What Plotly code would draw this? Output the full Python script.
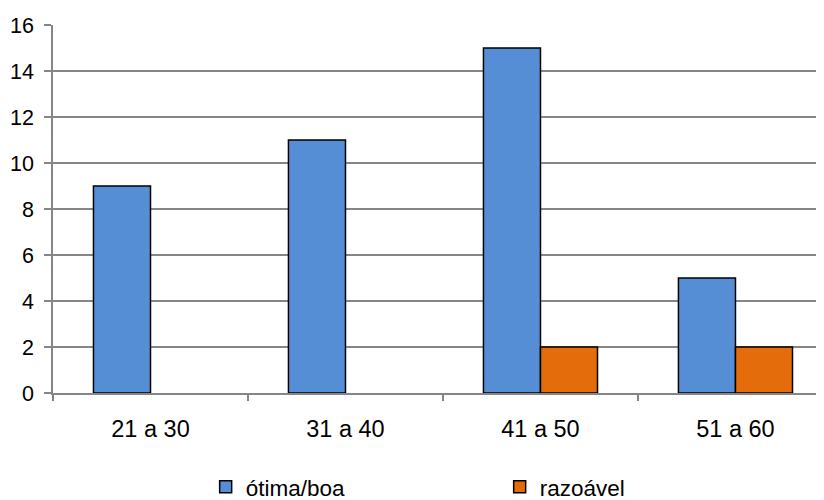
import plotly.graph_objects as go

categories = ["21 a 30", "31 a 40", "41 a 50", "51 a 60"]
otima_boa = [9, 11, 15, 5]
razoavel = [0, 0, 2, 2]
y_ticks = [0, 2, 4, 6, 8, 10, 12, 14, 16]

FONT = "Liberation Sans, Arial, sans-serif"

def hide_zero(vals):
    return [v if v != 0 else None for v in vals]

fig = go.Figure()
fig.add_trace(go.Bar(x=categories, y=hide_zero(otima_boa), name="ótima/boa",
                     marker=dict(color="#558ED5", line=dict(color="#000000", width=1.5))))
fig.add_trace(go.Bar(x=categories, y=hide_zero(razoavel), name="razoável",
                     marker=dict(color="#E46C0A", line=dict(color="#000000", width=1.5))))

fig.update_layout(
    width=816, height=492,
    margin=dict(l=45, r=0, t=17, b=107),
    paper_bgcolor="white", plot_bgcolor="white",
    barmode="group", bargap=0.415, bargroupgap=0,
    font=dict(family=FONT, size=22, color="#000000"),
    showlegend=True,
    legend=dict(orientation="h", x=0.198, xanchor="left", xref="paper",
                y=0.026, yanchor="middle", yref="container",
                entrywidth=249, entrywidthmode="pixels",
                font=dict(family=FONT, size=22.5)),
    xaxis=dict(range=[-0.5, 3.454], tickson="boundaries", ticks="outside", ticklen=6,
               tickcolor="#868686", tickwidth=1.5, showline=True, linecolor="#868686",
               linewidth=1.5, showgrid=False, ticklabelstandoff=14,
               tickfont=dict(family=FONT, size=23.5)),
    yaxis=dict(range=[0, 16], tickvals=y_ticks, ticks="outside", ticklen=7,
               tickcolor="#868686", tickwidth=1.5, showline=True, linecolor="#868686",
               linewidth=1.5, showgrid=True, gridcolor="#868686", gridwidth=1.5,
               zeroline=False, ticklabelstandoff=6,
               tickfont=dict(family=FONT, size=21.5)),
)

fig.write_html("out.html")
